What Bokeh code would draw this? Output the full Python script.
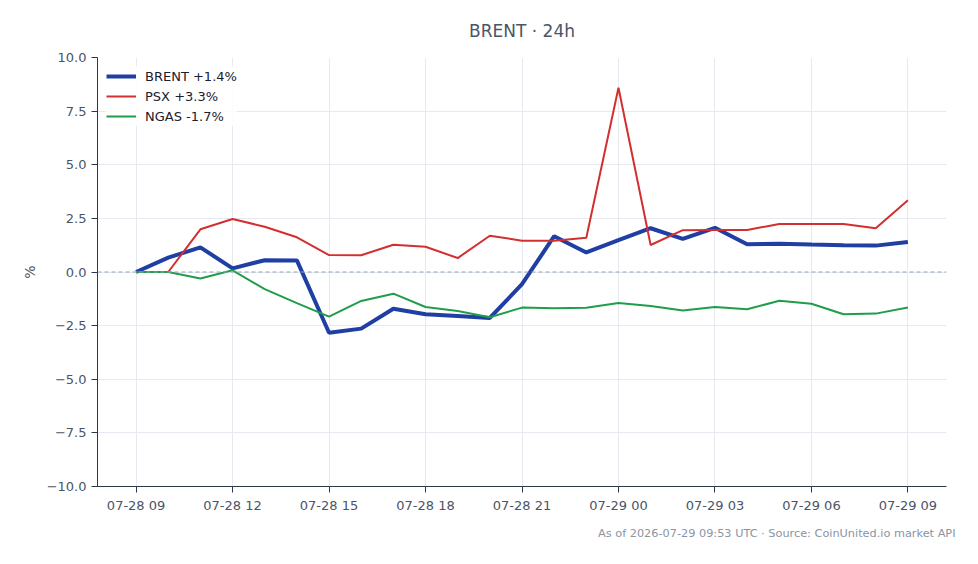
from datetime import datetime, timezone
from bokeh.plotting import figure
from bokeh.models import (ColumnDataSource, Span, Title, DatetimeTickFormatter,
                          Range1d, Legend, LegendItem, FixedTicker, CustomJSTickFormatter)
from bokeh.embed import file_html
from bokeh.resources import INLINE

times = ["2026-07-28 09:00", "2026-07-28 10:00", "2026-07-28 11:00", "2026-07-28 12:00",
         "2026-07-28 13:00", "2026-07-28 14:00", "2026-07-28 15:00", "2026-07-28 16:00",
         "2026-07-28 17:00", "2026-07-28 18:00", "2026-07-28 19:00", "2026-07-28 20:00",
         "2026-07-28 21:00", "2026-07-28 22:00", "2026-07-28 23:00", "2026-07-29 00:00",
         "2026-07-29 01:00", "2026-07-29 02:00", "2026-07-29 03:00", "2026-07-29 04:00",
         "2026-07-29 05:00", "2026-07-29 06:00", "2026-07-29 07:00", "2026-07-29 08:00",
         "2026-07-29 09:00"]

brent = [0.0, 0.67, 1.15, 0.17, 0.55, 0.54, -2.83, -2.64, -1.71, -1.97, -2.05, -2.14,
         -0.57, 1.67, 0.91, 1.49, 2.04, 1.54, 2.06, 1.29, 1.32, 1.28, 1.25, 1.23, 1.40]
psx = [0.0, 0.0, 1.99, 2.47, 2.11, 1.62, 0.79, 0.78, 1.27, 1.18, 0.65, 1.69,
       1.46, 1.46, 1.60, 8.59, 1.26, 1.95, 1.96, 1.96, 2.24, 2.24, 2.24, 2.04, 3.34]
ngas = [0.0, 0.0, -0.30, 0.08, -0.80, -1.45, -2.08, -1.35, -1.01, -1.63, -1.82, -2.11,
        -1.66, -1.69, -1.67, -1.45, -1.58, -1.79, -1.63, -1.74, -1.34, -1.48, -1.97, -1.94, -1.66]

series_names = ["BRENT", "PSX", "NGAS"]
series_colors = ["#1f3fa3", "#d32f2f", "#1f9d4a"]
series_widths = [4, 2, 2]
y_ticks = [-10.0, -7.5, -5.0, -2.5, 0.0, 2.5, 5.0, 7.5, 10.0]
x_tick_times = times[::3]
title_text = "BRENT · 24h"
footer_text = "As of 2026-07-29 09:53 UTC · Source: CoinUnited.io market API"


def to_dt(t):
    return datetime.strptime(t, "%Y-%m-%d %H:%M").replace(tzinfo=timezone.utc)


xs = [to_dt(t) for t in times]
src = ColumnDataSource(dict(x=xs, BRENT=brent, PSX=psx, NGAS=ngas))

p = figure(width=978, height=564, x_axis_type="datetime",
           output_backend="svg", toolbar_location=None,
           y_range=Range1d(-10, 10),
           min_border_left=97, min_border_right=32, min_border_top=57,
           min_border_bottom=78)
p.x_range.range_padding = 0.1

FONT = "DejaVu Sans"
AX = "#2d3748"
TXT = "#4a5568"

p.title.text = title_text
p.title.align = "center"
p.title.text_font = FONT
p.title.text_font_size = "17px"
p.title.text_font_style = "normal"
p.title.text_color = TXT
p.title.standoff = 34

p.outline_line_color = None
p.background_fill_color = "white"
p.border_fill_color = "white"

p.xgrid.grid_line_color = "#e6e9ef"
p.ygrid.grid_line_color = "#e6e9ef"

for ax in (p.xaxis[0], p.yaxis[0]):
    ax.axis_line_color = AX
    ax.major_tick_line_color = AX
    ax.minor_tick_line_color = None
    ax.major_tick_out = 6
    ax.major_tick_in = 0
    ax.major_label_text_font = FONT
    ax.major_label_text_font_size = "13px"
    ax.major_label_text_color = TXT
    ax.axis_label_text_font = FONT

p.yaxis.ticker = FixedTicker(ticks=y_ticks)
p.yaxis.formatter = CustomJSTickFormatter(
    code="return (tick < 0 ? '\u2212' : '') + Math.abs(tick).toFixed(1);")
p.yaxis.axis_label = "%"
p.yaxis.axis_label_text_font_size = "14px"
p.yaxis.axis_label_text_font_style = "normal"
p.yaxis.axis_label_text_color = TXT
p.yaxis.axis_label_standoff = 6

p.xaxis.ticker = FixedTicker(ticks=[to_dt(t).timestamp() * 1000 for t in x_tick_times])
p.xaxis.formatter = DatetimeTickFormatter(hours="%m-%d %H", days="%m-%d %H",
                                          hourmin="%m-%d %H", minutes="%m-%d %H")

zero = Span(location=0, dimension="width", line_color="#94a3b8",
            line_width=1, line_dash="4 3")
p.add_layout(zero)

items = []
finals = [brent[-1], psx[-1], ngas[-1]]
for name, col, w, fv in zip(series_names, series_colors, series_widths, finals):
    r = p.line("x", name, source=src, line_color=col, line_width=w)
    items.append(LegendItem(label=f"{name} {fv:+.1f}%", renderers=[r]))

leg = Legend(items=items, location="top_left", border_line_color=None,
             background_fill_alpha=0.85, label_text_font=FONT,
             label_text_font_size="13px", label_text_color="#1a202c",
             glyph_width=30, glyph_height=20, label_height=20, spacing=0,
             margin=9, padding=5, label_standoff=9)
p.add_layout(leg)

foot = Title(text=footer_text, align="right", text_font=FONT,
             text_font_size="11.3px", text_font_style="normal",
             text_color="#8a94a3", offset=-9, standoff=18)
p.add_layout(foot, "below")

open("out.html", "w").write(file_html(p, INLINE))
